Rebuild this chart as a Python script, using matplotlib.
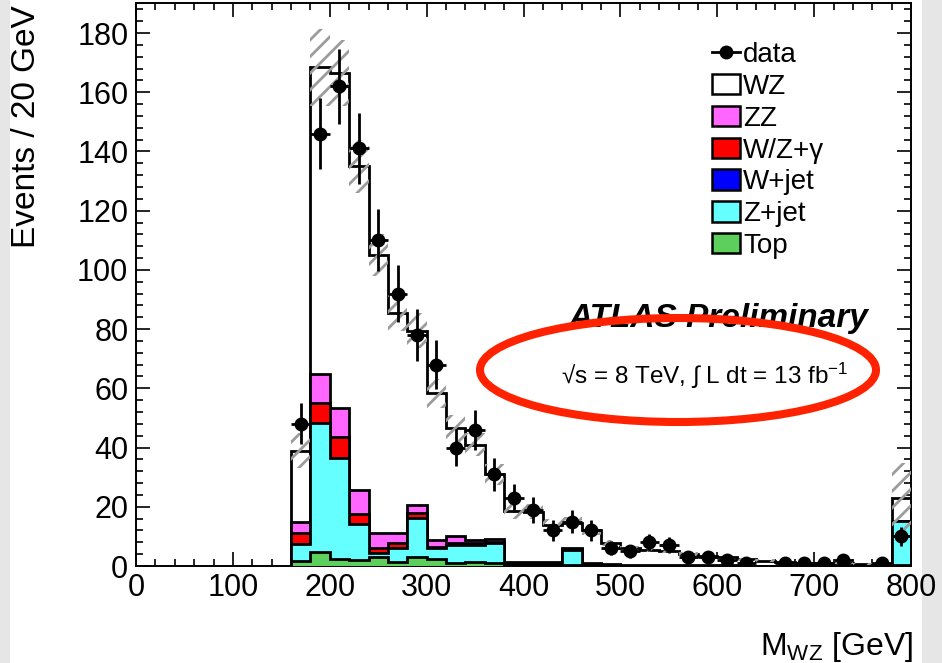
import numpy as np
import matplotlib
matplotlib.use("Agg")
import matplotlib.pyplot as plt
from matplotlib.patches import Patch, Ellipse, Rectangle
from matplotlib.lines import Line2D
from matplotlib.ticker import MultipleLocator

plt.rcParams['font.family'] = ['Liberation Sans', 'DejaVu Sans']
plt.rcParams['mathtext.fontset'] = 'custom'
plt.rcParams['mathtext.rm'] = 'Liberation Sans'
plt.rcParams['mathtext.it'] = 'Liberation Sans:italic'
plt.rcParams['mathtext.bf'] = 'Liberation Sans:bold'
plt.rcParams['hatch.linewidth'] = 2.0

# ---- data (20 GeV bins from 160 to 800 GeV, last bin = overflow) ----
bin_edges = [160, 180, 200, 220, 240, 260, 280, 300, 320, 340, 360, 380, 400,
             420, 440, 460, 480, 500, 520, 540, 560, 580, 600, 620, 640, 660,
             680, 700, 720, 740, 760, 780, 800]

top = [1.7, 4.6, 2.4, 2.0, 2.9, 1.5, 3.2, 2.3, 0.9, 1.5, 1.0, 0.3, 0.3, 0.3,
       0.5, 0.3, 0.2, 0.1, 0.1, 0.1, 0.1, 0.1, 0, 0, 0, 0, 0, 0, 0, 0, 0, 0.4]
zjet = [5.6, 43.6, 34.2, 12.2, 1.4, 4.7, 12.9, 3.7, 6.2, 5.6, 6.7, 0.2, 0.2,
        0.2, 5.0, 0.2, 0.1, 0, 0, 0, 0, 0, 0, 0, 0, 0, 0, 0, 0, 0, 0, 14.8]
wjet = [0] * 32
wzgamma = [3.9, 6.8, 6.9, 3.4, 1.7, 1.5, 1.7, 0.5, 0.7, 0.6, 0.3, 0.1, 0.1,
           0.1, 0.1, 0.1, 0.1, 0, 0, 0, 0, 0, 0, 0, 0, 0, 0, 0, 0, 0, 0, 0]
zz = [3.5, 10.0, 9.7, 8.1, 5.3, 3.3, 2.8, 2.3, 2.3, 1.1, 1.1, 0.8, 0.7, 0.6,
      0.5, 0.5, 0.4, 0.3, 0.3, 0.2, 0.2, 0.2, 0.2, 0.1, 0.1, 0.1, 0.1, 0.1,
      0.1, 0.1, 0.1, 0]
wz = [24.3, 103.5, 113.3, 109.3, 93.7, 74.5, 58.9, 49.5, 36.4, 32.2, 21.9,
      17.1, 17.0, 12.7, 8.4, 10.9, 6.9, 5.6, 5.0, 4.9, 3.7, 3.2, 2.8, 2.1,
      1.7, 1.3, 1.0, 0.9, 0.8, 0.7, 0.6, 7.7]
mc_unc = [6, 13, 11, 9, 7, 6, 6, 5, 4.5, 4, 3.5, 2.5, 2.5, 2, 2, 1.5, 1, 0.9,
          0.8, 0.8, 0.6, 0.5, 0.5, 0.4, 0.4, 0.3, 0.3, 0.3, 0.3, 0.3, 0.3, 12]
data = [48, 146, 162, 141, 110, 92, 78, 68, 40, 46, 31, 23, 19, 12, 15, 12, 6,
        5, 8, 7, 3, 3, 2, 1, 0, 1, 1, 1, 2, 0, 1, 10]

labels = ['data', 'WZ', 'ZZ', 'W/Z+γ', 'W+jet', 'Z+jet', 'Top']
colors = {'WZ': 'white', 'ZZ': '#ff66ff', 'W/Z+γ': '#ff0000',
          'W+jet': '#0000ff', 'Z+jet': '#66ffff', 'Top': '#5ccf5c'}

edges = np.array(bin_edges, dtype=float)
centers = 0.5 * (edges[:-1] + edges[1:])
halfw = 0.5 * np.diff(edges)

# cumulative stack (bottom -> top): Top, Z+jet, W+jet, W/Z+gamma, ZZ, WZ
stack_order = [('Top', top), ('Z+jet', zjet), ('W+jet', wjet),
               ('W/Z+γ', wzgamma), ('ZZ', zz), ('WZ', wz)]
cum = []
running = np.zeros(len(centers))
for name, vals in stack_order:
    running = running + np.array(vals, dtype=float)
    cum.append((name, running.copy()))
total = cum[-1][1]

# ---- figure ----
fig = plt.figure(figsize=(9.42, 6.63), dpi=100, facecolor='#e6e6e6')
fig.patches.append(Rectangle((10 / 942, 0), 912 / 942, 1,
                             transform=fig.transFigure, facecolor='white',
                             edgecolor='none', zorder=-10))
ax = fig.add_axes([136 / 942, 97 / 663, 775 / 942, 562.6 / 663])

z = 2
for name, vals in reversed(cum):
    ax.stairs(vals, edges, baseline=0, fill=True, facecolor=colors[name],
              edgecolor='black', linewidth=2.0, zorder=z)
    z += 0.1

unc = np.array(mc_unc, dtype=float)
ax.bar(centers, 2 * unc, bottom=total - unc, width=2 * halfw, fill=False,
       hatch='//', edgecolor='#9c9c9c', linewidth=0, zorder=6)

d = np.array(data, dtype=float)
m = d > 0
ax.errorbar(centers[m], d[m], yerr=np.sqrt(d[m]), xerr=halfw[m], fmt='o',
            color='black', ms=9, elinewidth=2.0, capsize=0, zorder=10)

ax.set_xlim(0, 800)
ax.set_ylim(0, 190)
ax.xaxis.set_major_locator(MultipleLocator(100))
ax.xaxis.set_minor_locator(MultipleLocator(20))
ax.yaxis.set_major_locator(MultipleLocator(20))
ax.yaxis.set_minor_locator(MultipleLocator(4))
ax.tick_params(which='both', direction='in', top=True, right=True,
               width=1.2, labelsize=22)
ax.tick_params(which='major', length=10)
ax.tick_params(which='minor', length=5)
ax.tick_params(axis='x', pad=5)
ax.tick_params(axis='y', pad=5.5)
for s in ax.spines.values():
    s.set_linewidth(1.4)

ax.set_xlabel('M$_{\\mathrm{WZ}}$ [GeV]', fontsize=23, loc='right')
ax.xaxis.set_label_coords(1.003, -0.113)
ax.set_ylabel('Events / 20 GeV', fontsize=24, loc='top')
ax.yaxis.set_label_coords(-0.121, 0.997)

handles = [Line2D([], [], color='black', marker='o', ms=9, lw=2.0)]
for name in labels[1:]:
    handles.append(Patch(facecolor=colors[name], edgecolor='black',
                         linewidth=1.8))
ax.legend(handles, labels, loc='upper left',
          bbox_to_anchor=(712 / 942, 1 - 42 / 663),
          bbox_transform=fig.transFigure, frameon=False, fontsize=20,
          handlelength=1.0, handleheight=0.75, handletextpad=0.12,
          labelspacing=0.21, borderpad=0, borderaxespad=0)

fig.text(869 / 942, 1 - 327 / 663, 'ATLAS Preliminary', ha='right',
         va='baseline', fontsize=24, fontweight='bold', fontstyle='italic',
         zorder=15)
fig.text(848 / 942, 1 - 384 / 663, '√s = 8 TeV, ∫ L dt = 13 fb$^{-1}$',
         ha='right', va='baseline', fontsize=17.5, zorder=15)

fig.patches.append(Ellipse((678 / 942, 1 - 370 / 663), 396 / 942, 104 / 663,
                           transform=fig.transFigure, fill=False,
                           edgecolor='#ff2200', linewidth=5.8, zorder=20))

fig.savefig('out.png', dpi=100, facecolor=fig.get_facecolor())
